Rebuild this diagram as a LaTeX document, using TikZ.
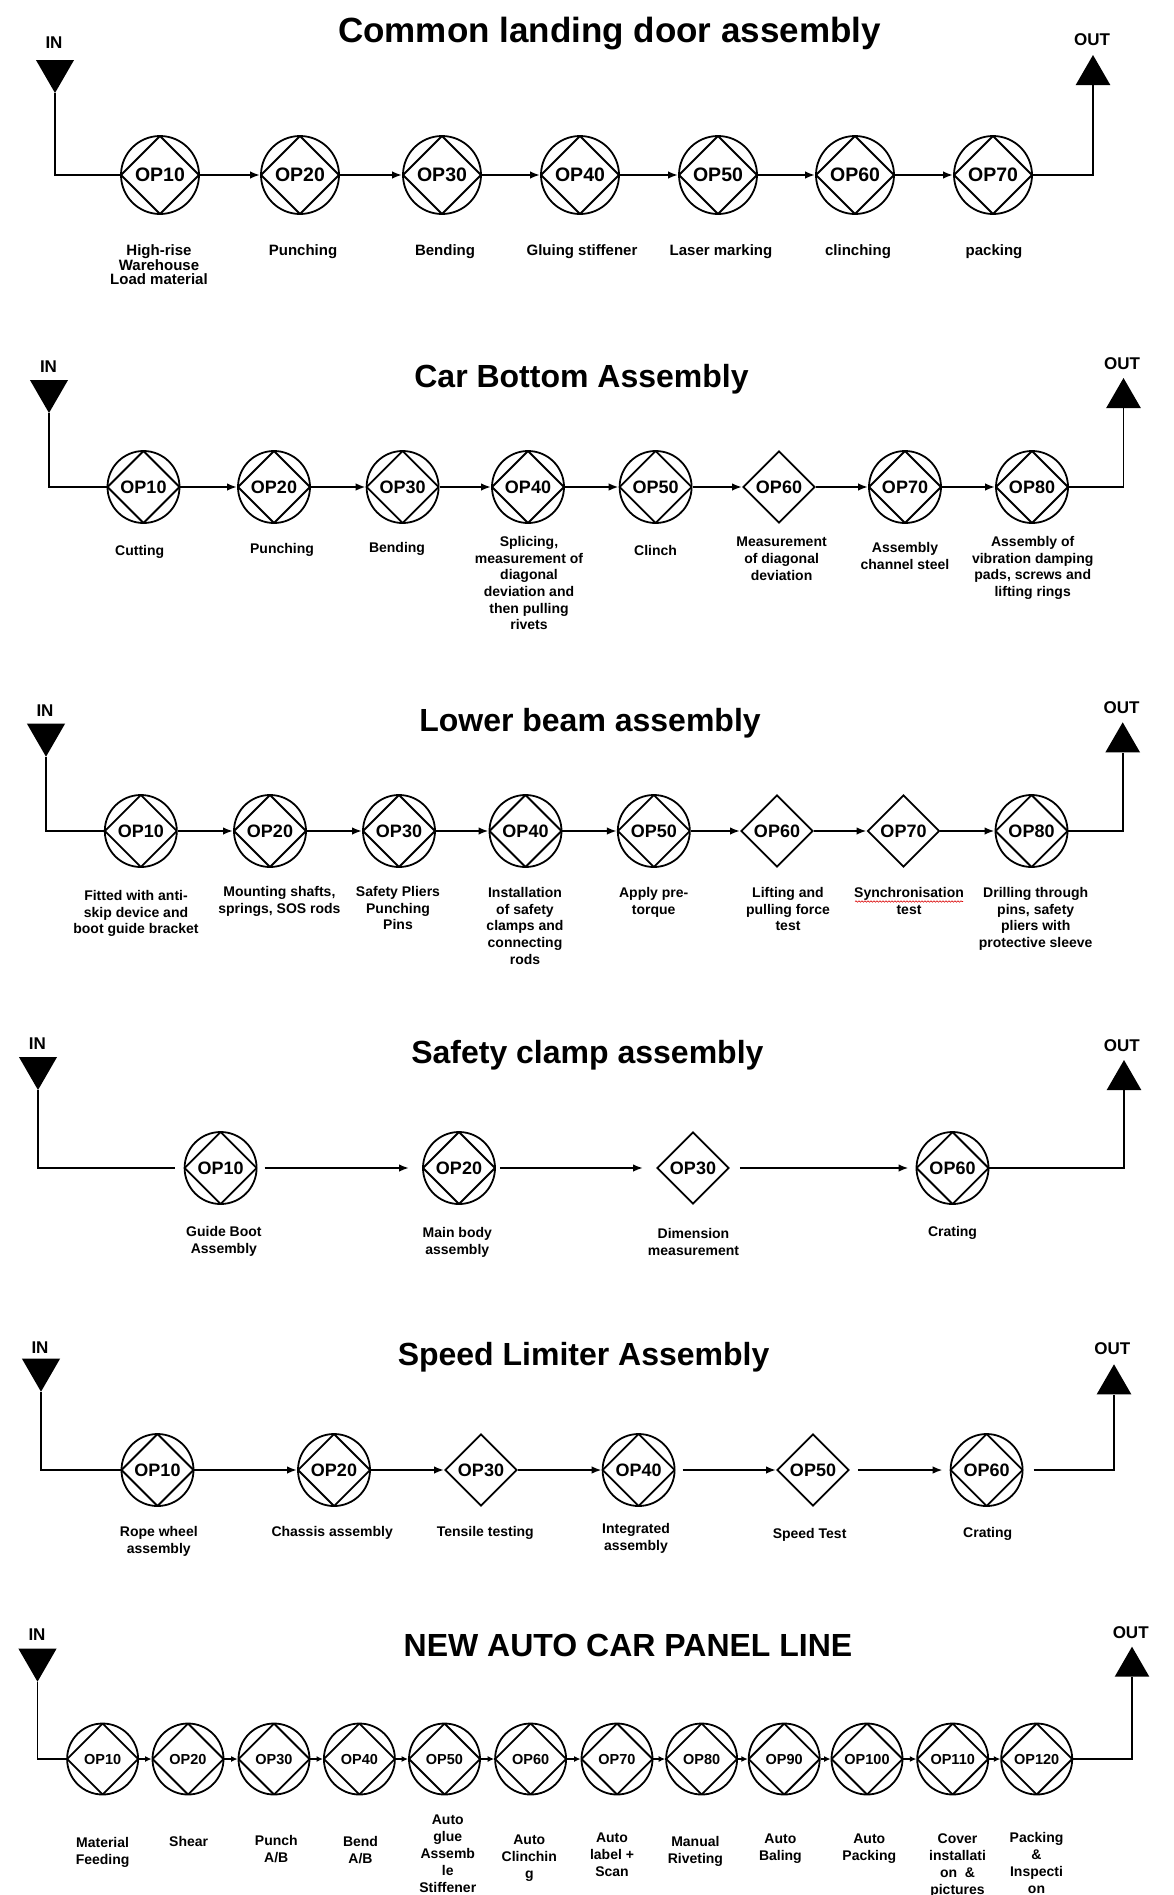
\documentclass[tikz,border=0pt]{standalone}
\usepackage{fontspec}
\setmainfont{Liberation Sans}
\usetikzlibrary{arrows.meta, shapes.geometric, decorations.pathmorphing}

\begin{document}
\begin{tikzpicture}[x=1pt, y=-1pt, line join=miter,
    opc/.style={circle, draw, line width=1.8pt, minimum size=#1, inner sep=0pt,
      path picture={\draw[line width=1.8pt] (path picture bounding box.north) -- (path picture bounding box.east)
        -- (path picture bounding box.south) -- (path picture bounding box.west) -- cycle;}},
    opc/.default=72pt,
    opd/.style={diamond, draw, line width=1.8pt, minimum width=#1, minimum height=#1, inner sep=0pt},
    opd/.default=72pt,
    ttl/.style={anchor=base, inner sep=0pt, font=\fontsize{32}{38}\selectfont\bfseries},
    io/.style={inner sep=0pt, font=\fontsize{17}{20}\selectfont\bfseries},
    inmark/.style={regular polygon, regular polygon sides=3, rotate=180, fill, minimum size=44pt, inner sep=0pt},
    outmark/.style={regular polygon, regular polygon sides=3, fill, minimum size=40pt, inner sep=0pt},
    opcap/.style={align=center, anchor=north, inner sep=0pt, font=\fontsize{14}{16.7}\selectfont\bfseries},
    feed/.style={line width=1.8pt},
    flow/.style={line width=2.2pt, -{Latex[length=10pt, width=7.5pt]}},
    flowsm/.style={line width=2pt, -{Latex[length=6.5pt, width=6pt]}}]

    \useasboundingbox (0,0) rectangle (1173,1895);

    % Common landing door assembly
    \node[ttl, font=\fontsize{35}{40}\selectfont\bfseries] (t1) at (609.5,42) {Common landing door assembly};
    \node[io] (inl1) at (54,43) {IN};
    \node[inmark] (in1) at (55,71) {};
    \node[io] (outl1) at (1092,39.5) {OUT};
    \node[outmark] (out1) at (1093,75) {};
    \begin{scope}[font=\fontsize{19.5}{22}\selectfont\bfseries]
      \foreach \i/\x in {1/160,2/300,3/442,4/580,5/718,6/855,7/993}
        \node[opc=78pt] (a\i) at (\x,175) {OP\i0};
    \end{scope}
    \foreach \i [count=\j from 2] in {1,...,6}
      \draw[flow] (a\i) -- (a\j);
    \draw[feed] (in1) |- (a1);
    \draw[feed] (a7) -| (out1);
    \begin{scope}[opcap/.append style={font=\fontsize{15}{14}\selectfont\bfseries}]
      \node[opcap] (ca1) at (159,244) {High-rise\\Warehouse\\Load material};
      \node[opcap] (ca2) at (303,244) {Punching};
      \node[opcap] (ca3) at (445,244) {Bending};
      \node[opcap] (ca4) at (582,244) {Gluing stiffener};
      \node[opcap] (ca5) at (721,244) {Laser marking};
      \node[opcap] (ca6) at (858,244) {clinching};
      \node[opcap] (ca7) at (994,244) {packing};
    \end{scope}

    % Car Bottom Assembly
    \node[ttl] (t2) at (581.5,387) {Car Bottom Assembly};
    \node[io] (inl2) at (48.5,366.5) {IN};
    \node[inmark] (in2) at (49,391) {};
    \node[io] (outl2) at (1122,364) {OUT};
    \node[outmark] (out2) at (1123.5,398) {};
    \begin{scope}[font=\fontsize{18}{21}\selectfont\bfseries]
      \foreach \i/\x/\k in {1/143.5/opc,2/274/opc,3/402.6/opc,4/528/opc,5/655.6/opc,6/779/opd,7/905/opc,8/1032/opc}
        \node[\k] (b\i) at (\x,487) {OP\i0};
    \end{scope}
    \foreach \i [count=\j from 2] in {1,...,7}
      \draw[flow] (b\i) -- (b\j);
    \draw[feed] (in2) |- (b1);
    \draw[feed] (b8) -| (out2);
    \node[opcap] (cb1) at (139.7,545) {Cutting};
    \node[opcap] (cb2) at (282,543) {Punching};
    \node[opcap] (cb3) at (397,542) {Bending};
    \node[opcap] (cb4) at (529,536) {Splicing,\\measurement of\\diagonal\\deviation and\\then pulling\\rivets};
    \node[opcap] (cb5) at (655.6,545) {Clinch};
    \node[opcap] (cb6) at (781.6,537) {Measurement\\of diagonal\\deviation};
    \node[opcap] (cb7) at (905,542) {Assembly\\channel steel};
    \node[opcap] (cb8) at (1032.7,536) {Assembly of\\vibration damping\\pads, screws and\\lifting rings};

    % Lower beam assembly
    \node[ttl] (t3) at (590,731.7) {Lower beam assembly};
    \node[io] (inl3) at (45,711) {IN};
    \node[inmark] (in3) at (46,734.7) {};
    \node[io] (outl3) at (1121.5,708) {OUT};
    \node[outmark] (out3) at (1122.7,742.3) {};
    \begin{scope}[font=\fontsize{18}{21}\selectfont\bfseries]
      \foreach \i/\x/\k in {1/140.8/opc,2/270/opc,3/399/opc,4/525.5/opc,5/653.8/opc,6/777/opd,7/903.5/opd,8/1031.5/opc}
        \node[\k] (c\i) at (\x,831) {OP\i0};
    \end{scope}
    \foreach \i [count=\j from 2] in {1,...,7}
      \draw[flow] (c\i) -- (c\j);
    \draw[feed] (in3) |- (c1);
    \draw[feed] (c8) -| (out3);
    \node[opcap] (cc1) at (136,890) {Fitted with anti-\\skip device and\\boot guide bracket};
    \node[opcap] (cc2) at (279.4,886) {Mounting shafts,\\springs, SOS rods};
    \node[opcap] (cc3) at (398,886) {Safety Pliers\\Punching\\Pins};
    \node[opcap] (cc4) at (525,887) {Installation\\of safety\\clamps and\\connecting\\rods};
    \node[opcap] (cc5) at (653.7,887) {Apply pre-\\torque};
    \node[opcap] (cc6) at (788,887) {Lifting and\\pulling force\\test};
    \node[opcap] (cc7) at (909,887) {Synchronisation\\test};
    \node[opcap] (cc8) at (1035.7,887) {Drilling through\\pins, safety\\pliers with\\protective sleeve};
    \draw[red!85!black, line width=0.6pt, decorate, decoration={snake, amplitude=0.7pt, segment length=3pt}]
      (855,901.5) -- (963,901.5);

    % Safety clamp assembly
    \node[ttl] (t4) at (587.4,1063.3) {Safety clamp assembly};
    \node[io] (inl4) at (37.4,1044) {IN};
    \node[inmark] (in4) at (38,1068) {};
    \node[io] (outl4) at (1121.8,1045.4) {OUT};
    \node[outmark] (out4) at (1124,1080) {};
    \begin{scope}[font=\fontsize{18}{21}\selectfont\bfseries]
      \foreach \i/\x/\k/\n in {1/220.6/opc/10,2/459/opc/20,3/693/opd/30,4/952.5/opc/60}
        \node[\k] (d\i) at (\x,1168) {OP\n};
    \end{scope}
    \draw[feed, shorten >=9pt] (in4) |- (d1);
    \draw[flow, shorten <=7pt, shorten >=13pt] (d1) -- (d2);
    \draw[flow, shorten <=4pt, shorten >=13pt] (d2) -- (d3);
    \draw[flow, shorten <=10pt, shorten >=7pt] (d3) -- (d4);
    \draw[feed] (d4) -| (out4);
    \node[opcap] (cd1) at (223.9,1226) {Guide Boot\\Assembly};
    \node[opcap] (cd2) at (457.3,1227) {Main body\\assembly};
    \node[opcap] (cd3) at (693.5,1228) {Dimension\\measurement};
    \node[opcap] (cd4) at (952.5,1226) {Crating};

    % Speed Limiter Assembly
    \node[ttl] (t5) at (583.6,1365) {Speed Limiter Assembly};
    \node[io] (inl5) at (40,1347.5) {IN};
    \node[inmark] (in5) at (41,1369.7) {};
    \node[io] (outl5) at (1112.4,1348.8) {OUT};
    \node[outmark] (out5) at (1114,1384.3) {};
    \begin{scope}[font=\fontsize{18}{21}\selectfont\bfseries]
      \foreach \i/\x/\k in {1/157.5/opc,2/334/opc,3/481/opd,4/638.6/opc,5/813/opd,6/986.6/opc}
        \node[\k] (e\i) at (\x,1470) {OP\i0};
    \end{scope}
    \draw[feed] (in5) |- (e1);
    \draw[flow] (e1) -- (e2);
    \draw[flow] (e2) -- (e3);
    \draw[flow] (e3) -- (e4);
    \draw[flow, shorten <=7pt] (e4) -- (e5);
    \draw[flow, shorten <=8pt, shorten >=7pt] (e5) -- (e6);
    \draw[feed, shorten <=10pt] (e6) -| (out5);
    \node[opcap] (ce1) at (158.8,1526) {Rope wheel\\assembly};
    \node[opcap] (ce2) at (332.2,1526) {Chassis assembly};
    \node[opcap] (ce3) at (485.3,1526) {Tensile testing};
    \node[opcap] (ce4) at (636,1523) {Integrated\\assembly};
    \node[opcap] (ce5) at (809.6,1528) {Speed Test};
    \node[opcap] (ce6) at (987.7,1527) {Crating};

    % NEW AUTO CAR PANEL LINE
    \node[ttl] (t6) at (628,1656) {NEW AUTO CAR PANEL LINE};
    \node[io] (inl6) at (37,1635) {IN};
    \node[inmark] (in6) at (37.5,1659.7) {};
    \node[io] (outl6) at (1130.7,1632.5) {OUT};
    \node[outmark] (out6) at (1132,1666.7) {};
    \begin{scope}[font=\fontsize{14.5}{17}\selectfont\bfseries]
      \foreach \i/\x in {1/102.6,2/188,3/274,4/359.4,5/444.5,6/530.6,7/617,8/701.6,9/784.2,10/867,11/952.7,12/1036.7}
        \node[opc=71pt] (f\i) at (\x,1759) {OP\i0};
    \end{scope}
    \foreach \i [count=\j from 2] in {1,...,11}
      \draw[flowsm] (f\i) -- (f\j);
    \draw[feed] (in6) |- (f1);
    \draw[feed] (f12) -| (out6);
    \begin{scope}[opcap/.append style={font=\fontsize{14}{17}\selectfont\bfseries}]
      \node[opcap] (cf1) at (102.6,1837) {Material\\Feeding};
      \node[opcap] (cf2) at (188.7,1836) {Shear};
      \node[opcap] (cf3) at (276.3,1835) {Punch\\A/B};
      \node[opcap] (cf4) at (360.5,1836) {Bend\\A/B};
      \node[opcap] (cf5) at (447.8,1815) {Auto\\glue\\Assemb\\le\\Stiffener};
      \node[opcap] (cf6) at (529.3,1835) {Auto\\Clinchin\\g};
      \node[opcap] (cf7) at (612,1833) {Auto\\label +\\Scan};
      \node[opcap] (cf8) at (695.4,1836) {Manual\\Riveting};
      \node[opcap] (cf9) at (780.4,1834) {Auto\\Baling};
      \node[opcap] (cf10) at (869.3,1834) {Auto\\Packing};
      \node[opcap] (cf11) at (957.5,1833) {Cover\\installati\\on~~\&\\pictures};
      \node[opcap] (cf12) at (1036.5,1832) {Packing\\\&\\Inspecti\\on};
    \end{scope}
\end{tikzpicture}
\end{document}
